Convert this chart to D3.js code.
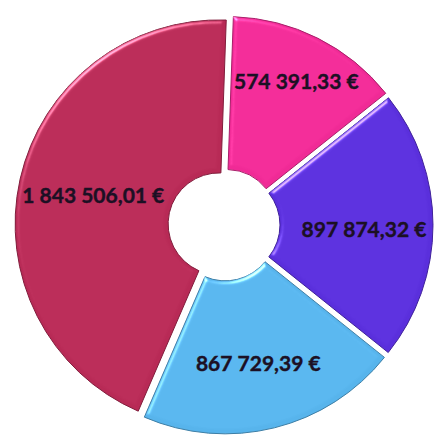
<!DOCTYPE html>
<html><head><meta charset="utf-8">
<script src="https://cdn.jsdelivr.net/npm/d3@7"></script>
<style>html,body{margin:0;padding:0;background:#fff;overflow:hidden}</style>
</head><body>
<svg id="chart" width="438" height="436"></svg>
<script>
const categories = ["A", "B", "C", "D"];
const values = [574391.33, 897874.32, 867729.39, 1843506.01];
const labels = ["574 391,33 €", "897 874,32 €", "867 729,39 €", "1 843 506,01 €"];
const colors = ["#F02A96", "#5A2FDC", "#57B4EC", "#B82A56"];

const W = 438, H = 436, cx = 224, cy = 225;
const outerR = 204, innerR = 51, explode = 5;
const labelR = [161, 140, 142, 134];
const labelDy = [0, 4, 1, 0];
const start = 2 * Math.PI / 180;

const svg = d3.select("#chart");
const defs = svg.append("defs");
const f = defs.append("filter").attr("id", "bevel").attr("x", "-10%").attr("y", "-10%").attr("width", "120%").attr("height", "120%")
  .attr("color-interpolation-filters", "sRGB");
f.append("feGaussianBlur").attr("in", "SourceAlpha").attr("stdDeviation", 2).attr("result", "blur");
const sl = f.append("feSpecularLighting").attr("in", "blur").attr("surfaceScale", 3).attr("specularConstant", 0.7)
  .attr("specularExponent", 25).attr("lighting-color", "#ffffff").attr("result", "spec");
sl.append("feDistantLight").attr("azimuth", 235).attr("elevation", 30);
f.append("feComposite").attr("in", "spec").attr("in2", "SourceAlpha").attr("operator", "in").attr("result", "specIn");
f.append("feComposite").attr("in", "SourceGraphic").attr("in2", "specIn").attr("operator", "arithmetic")
  .attr("k1", 0).attr("k2", 1).attr("k3", 0.8).attr("k4", 0);

const pie = d3.pie().sort(null).value(d => d).startAngle(start).endAngle(start + 2 * Math.PI);
const arcs = pie(values);
const arc = d3.arc().innerRadius(innerR).outerRadius(outerR);

const g = svg.append("g").attr("transform", `translate(${cx},${cy})`);
const slices = g.selectAll("g.slice").data(arcs).enter().append("g").attr("class", "slice")
  .attr("transform", d => {
    const a = (d.startAngle + d.endAngle) / 2;
    return `translate(${explode * Math.sin(a)},${-explode * Math.cos(a)})`;
  });
slices.append("path").attr("d", arc)
  .attr("fill", (d, i) => colors[i])
  .attr("stroke", (d, i) => d3.color(colors[i]).darker(1))
  .attr("stroke-width", 1)
  .attr("filter", "url(#bevel)");

g.selectAll("text.lbl").data(arcs).enter().append("text").attr("class", "lbl")
  .attr("x", (d, i) => labelR[i] * Math.sin((d.startAngle + d.endAngle) / 2))
  .attr("y", (d, i) => -labelR[i] * Math.cos((d.startAngle + d.endAngle) / 2) + labelDy[i])
  .attr("dy", "0.35em")
  .attr("text-anchor", "middle")
  .attr("font-family", "Lato, 'Open Sans', sans-serif")
  .attr("font-weight", "bold")
  .attr("font-size", "21px")
  .attr("fill", "#1c1024")
  .attr("stroke", "#1c1024")
  .attr("stroke-width", 0.4)
  .text((d, i) => labels[i]);
</script>
</body></html>
